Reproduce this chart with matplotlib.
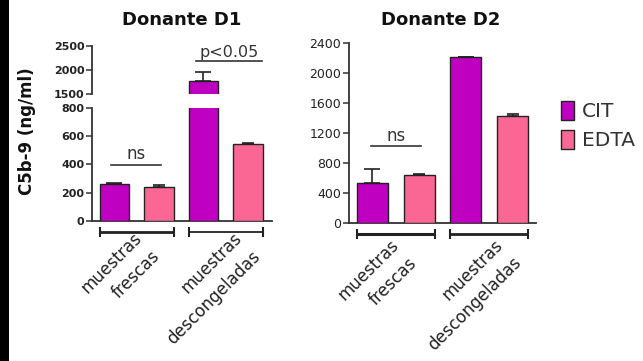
import matplotlib
matplotlib.use('Agg')
import matplotlib.pyplot as plt
import matplotlib.transforms as mtransforms
from matplotlib.patches import Rectangle

# data (ng/ml)
groups = ['muestras\nfrescas', 'muestras\ndescongeladas']
series = ['CIT', 'EDTA']
d1_cit = [260, 1775]
d1_cit_err = [8, 190]
d1_edta = [243, 545]
d1_edta_err = [8, 6]
d2_cit = [527, 2221]
d2_cit_err = [191, 0]
d2_edta = [638, 1430]
d2_edta_err = [12, 20]

CIT_COLOR = '#C000C0'
EDTA_COLOR = '#FA6794'
INK = '#222222'

W, H = 643, 361
fig = plt.figure(figsize=(W / 100, H / 100), dpi=100)
fig.patches.append(Rectangle((0, 0), 9 / W, 1, transform=fig.transFigure,
                             facecolor='black', edgecolor='none', zorder=-1))


def px_axes(l, t, r, b):
    return fig.add_axes([l / W, 1 - b / H, (r - l) / W, (b - t) / H])


def px_off(dx, dy):
    # offset in pixels (y down positive)
    return mtransforms.ScaledTranslation(dx / 100, -dy / 100, fig.dpi_scale_trans)


def draw_bars(ax, cit, cit_err, edta, edta_err):
    xc = [2 * g for g in range(len(groups))]
    xe = [2 * g + 1 for g in range(len(groups))]
    b1 = ax.bar(xc, cit, width=0.66, color=CIT_COLOR, edgecolor=INK, linewidth=1.0, zorder=3)
    b2 = ax.bar(xe, edta, width=0.66, color=EDTA_COLOR, edgecolor=INK, linewidth=1.0, zorder=3)
    ax.errorbar(xc, cit, yerr=[[0] * len(cit), cit_err], fmt='none', ecolor=INK,
                elinewidth=1.2, capsize=5.5, capthick=1.2, zorder=2)
    ax.errorbar(xe, edta, yerr=[[0] * len(edta), edta_err], fmt='none', ecolor=INK,
                elinewidth=1.2, capsize=4.5, capthick=1.2, zorder=2)
    return b1, b2


def style(ax, bottom=True):
    for s in ['top', 'right']:
        ax.spines[s].set_visible(False)
    ax.spines['left'].set_linewidth(1.3)
    ax.spines['left'].set_color('#333333')
    if bottom:
        ax.spines['bottom'].set_linewidth(1.3)
        ax.spines['bottom'].set_color('#333333')
    else:
        ax.spines['bottom'].set_visible(False)
    ax.set_xticks([])
    ax.tick_params(axis='y', length=4, width=1.1, color='#333333', pad=1.5)


def brackets_and_labels(ax, lws, label_dx, label_dy):
    trans = ax.get_xaxis_transform() + px_off(0, 11.6)
    for g, name in enumerate(groups):
        x0, x1 = 2 * g - 0.33, 2 * g + 1 + 0.33
        ax.plot([x0, x1], [0, 0], color=INK, lw=lws[g], marker='|', markersize=7,
                mew=1.5, transform=trans, clip_on=False, solid_capstyle='butt')
        ax.text(2 * g + 0.5, 0, name, rotation=45, rotation_mode='anchor',
                ha='right', va='top', multialignment='right', fontsize=12,
                color=INK, linespacing=1.55,
                transform=ax.get_xaxis_transform() + px_off(label_dx[g], label_dy))


# ---- Donante D1 (broken axis) ----
ax1b = px_axes(92, 108.3, 272, 220.7)
ax1t = px_axes(92, 45.7, 272, 94.3)
for a in (ax1b, ax1t):
    bars = draw_bars(a, d1_cit, d1_cit_err, d1_edta, d1_edta_err)
    a.set_xlim(-0.5, 3.54)
ax1b.set_ylim(0, 800)
ax1b.set_yticks([0, 200, 400, 600, 800])
ax1t.set_ylim(1500, 2500)
ax1t.set_yticks([1500, 2000, 2500])
style(ax1b)
style(ax1t, bottom=False)
for a in (ax1b, ax1t):
    for lab in a.get_yticklabels():
        lab.set_fontsize(8)
        lab.set_fontweight('bold')
        lab.set_color(INK)

ax1b.plot([-0.08, 1.045], [393, 393], color='#333333', lw=1.2)
ax1b.text(0.49, 393, 'ns', ha='center', va='bottom', fontsize=12, color='#333333',
          transform=ax1b.transData + px_off(0, -2))
ax1t.plot([1.83, 3.31], [2190, 2190], color='#333333', lw=1.2)
ax1t.text(2.57, 2190, 'p<0.05', ha='center', va='bottom', fontsize=11.5, color='#333333',
          transform=ax1t.transData + px_off(0, -1))
brackets_and_labels(ax1b, [2.0, 1.3], [-4, 7], 8.5)

# ---- Donante D2 ----
ax2 = px_axes(349, 43.3, 536, 222.7)
cit_bars, edta_bars = draw_bars(ax2, d2_cit, d2_cit_err, d2_edta, d2_edta_err)
ax2.set_xlim(-0.5, 3.5)
ax2.set_ylim(0, 2400)
ax2.set_yticks(range(0, 2401, 400))
style(ax2)
for lab in ax2.get_yticklabels():
    lab.set_fontsize(9)
    lab.set_color(INK)
ax2.plot([-0.02, 1.05], [1026, 1026], color='#333333', lw=1.2)
ax2.text(0.5, 1026, 'ns', ha='center', va='bottom', fontsize=12, color='#333333',
         transform=ax2.transData + px_off(0, -1))
brackets_and_labels(ax2, [2.2, 2.0], [-6, 5], 13.0)

# titles and shared y label
fig.text(182 / W, 1 - 25 / H, 'Donante D1', ha='center', va='baseline',
         fontsize=13, fontweight='bold', color='#111111')
fig.text(441 / W, 1 - 25 / H, 'Donante D2', ha='center', va='baseline',
         fontsize=13, fontweight='bold', color='#111111')
fig.text(27 / W, 1 - 131 / H, 'C5b-9 (ng/ml)', rotation=90, ha='center', va='center',
         fontsize=12, fontweight='bold', color='#111111')

fig.legend([cit_bars, edta_bars], series, loc='upper left',
           bbox_to_anchor=(561 / W, 1 - 101 / H), frameon=False, fontsize=14.5,
           handlelength=0.65, handleheight=1.05, handletextpad=0.4,
           labelspacing=0.45, borderpad=0, borderaxespad=0, labelcolor='#333333')

fig.savefig('out.png', dpi=100, facecolor='white')
